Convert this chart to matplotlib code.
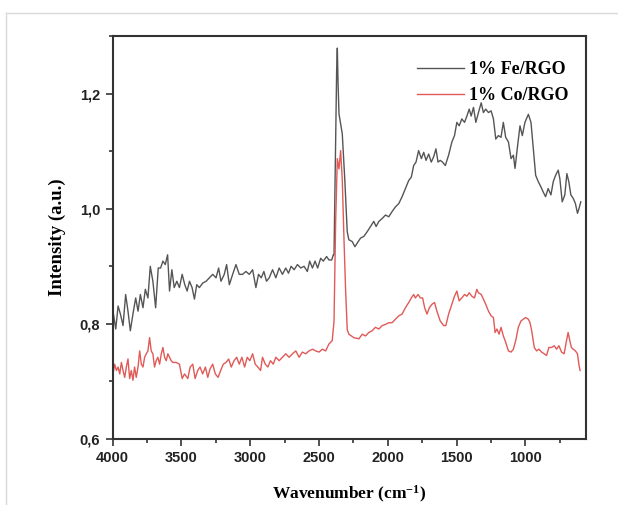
import matplotlib
matplotlib.use("Agg")
import matplotlib.pyplot as plt
from matplotlib.ticker import MultipleLocator, FuncFormatter
from matplotlib.lines import Line2D

plt.rcParams["mathtext.fontset"] = "custom"
plt.rcParams["mathtext.rm"] = "Liberation Serif:bold"
plt.rcParams["mathtext.bf"] = "Liberation Serif:bold"
plt.rcParams["mathtext.default"] = "bf"

# 1% Fe/RGO (black trace)
fe_wn = [3998, 3978, 3961, 3944, 3925, 3906, 3889, 3872, 3853, 3833, 3816, 3799,
         3780, 3763, 3744, 3727, 3708, 3688, 3669, 3652, 3635, 3618, 3601, 3587,
         3570, 3553, 3534, 3515, 3495, 3476, 3459, 3442, 3423, 3406, 3389, 3370,
         3345, 3321, 3297, 3273, 3249, 3230, 3213, 3189, 3172, 3152, 3128, 3104,
         3080, 3056, 3032, 3007, 2983, 2959, 2940, 2920, 2901, 2882, 2862, 2838,
         2814, 2790, 2766, 2742, 2722, 2703, 2681, 2657, 2633, 2609, 2585, 2568,
         2548, 2529, 2510, 2488, 2469, 2445, 2428, 2408, 2396, 2391, 2380, 2372,
         2367, 2362, 2355, 2345, 2331, 2312, 2295, 2283, 2259, 2239, 2215, 2198,
         2174, 2150, 2126, 2102, 2085, 2065, 2041, 2017, 1993, 1969, 1945, 1920,
         1896, 1872, 1848, 1829, 1812, 1795, 1776, 1756, 1739, 1722, 1703, 1684,
         1667, 1650, 1635, 1619, 1602, 1582, 1558, 1534, 1515, 1498, 1481, 1462,
         1442, 1425, 1408, 1394, 1377, 1360, 1341, 1321, 1305, 1288, 1268, 1249,
         1232, 1215, 1196, 1177, 1160, 1143, 1123, 1104, 1087, 1075, 1056, 1039,
         1022, 1003, 978, 959, 942, 925, 906, 887, 870, 853, 834, 814,
         797, 780, 761, 749, 732, 713, 698, 684, 669, 652, 636, 621,
         609, 597]
fe_int = [0.822, 0.791, 0.831, 0.817, 0.797, 0.851, 0.822, 0.788, 0.817, 0.845, 0.822, 0.851,
          0.828, 0.860, 0.845, 0.900, 0.874, 0.828, 0.897, 0.897, 0.909, 0.903, 0.920, 0.857,
          0.894, 0.863, 0.874, 0.863, 0.886, 0.868, 0.857, 0.874, 0.863, 0.843, 0.868, 0.863,
          0.871, 0.874, 0.880, 0.886, 0.880, 0.897, 0.874, 0.886, 0.903, 0.868, 0.886, 0.903,
          0.886, 0.886, 0.891, 0.886, 0.894, 0.863, 0.886, 0.880, 0.891, 0.874, 0.880, 0.894,
          0.880, 0.897, 0.886, 0.897, 0.888, 0.900, 0.894, 0.903, 0.897, 0.900, 0.891, 0.909,
          0.897, 0.909, 0.897, 0.914, 0.909, 0.917, 0.911, 0.911, 0.920, 0.920, 1.100, 1.240,
          1.279, 1.220, 1.165, 1.150, 1.130, 1.047, 0.960, 0.946, 0.943, 0.934, 0.943, 0.949,
          0.952, 0.960, 0.969, 0.978, 0.969, 0.978, 0.983, 0.989, 0.986, 0.995, 1.003, 1.009,
          1.021, 1.035, 1.049, 1.055, 1.075, 1.081, 1.101, 1.087, 1.098, 1.084, 1.095, 1.081,
          1.090, 1.104, 1.081, 1.084, 1.081, 1.075, 1.093, 1.116, 1.127, 1.150, 1.144, 1.156,
          1.150, 1.161, 1.173, 1.161, 1.176, 1.150, 1.167, 1.184, 1.167, 1.173, 1.167, 1.170,
          1.156, 1.121, 1.127, 1.124, 1.150, 1.124, 1.116, 1.087, 1.093, 1.070, 1.110, 1.144,
          1.127, 1.150, 1.164, 1.150, 1.104, 1.058, 1.047, 1.038, 1.029, 1.021, 1.035, 1.024,
          1.047, 1.058, 1.067, 1.052, 1.012, 1.024, 1.061, 1.047, 1.024, 1.018, 1.009, 0.992,
          1.001, 1.012]

# 1% Co/RGO (red trace)
co_wn = [3998, 3986, 3973, 3961, 3949, 3937, 3925, 3913, 3901, 3889, 3877, 3865,
         3853, 3841, 3829, 3816, 3804, 3792, 3780, 3768, 3756, 3744, 3732, 3720,
         3708, 3696, 3684, 3672, 3659, 3647, 3635, 3623, 3611, 3599, 3587, 3575,
         3563, 3539, 3515, 3495, 3478, 3454, 3437, 3418, 3401, 3382, 3365, 3346,
         3326, 3309, 3292, 3273, 3254, 3234, 3215, 3196, 3176, 3157, 3138, 3118,
         3099, 3080, 3061, 3041, 3022, 3003, 2983, 2964, 2945, 2925, 2911, 2891,
         2872, 2853, 2833, 2814, 2790, 2766, 2742, 2718, 2693, 2669, 2645, 2621,
         2597, 2573, 2548, 2524, 2500, 2476, 2452, 2428, 2404, 2391, 2379, 2367,
         2355, 2343, 2331, 2319, 2307, 2295, 2283, 2247, 2210, 2186, 2162, 2138,
         2114, 2090, 2065, 2041, 2017, 1993, 1969, 1945, 1920, 1896, 1872, 1848,
         1829, 1812, 1800, 1780, 1763, 1747, 1732, 1715, 1698, 1679, 1660, 1643,
         1619, 1594, 1578, 1558, 1534, 1515, 1498, 1481, 1462, 1442, 1425, 1408,
         1389, 1370, 1353, 1341, 1321, 1305, 1288, 1268, 1249, 1232, 1220, 1206,
         1191, 1177, 1160, 1143, 1123, 1104, 1087, 1070, 1051, 1032, 1015, 998,
         978, 966, 954, 935, 918, 901, 882, 863, 846, 829, 809, 790,
         773, 756, 737, 718, 703, 689, 677, 665, 652, 636, 621, 611,
         602]
co_int = [0.713, 0.730, 0.719, 0.725, 0.713, 0.733, 0.719, 0.707, 0.725, 0.739, 0.705, 0.719,
          0.702, 0.725, 0.707, 0.725, 0.753, 0.730, 0.725, 0.742, 0.748, 0.753, 0.776, 0.753,
          0.748, 0.725, 0.736, 0.742, 0.730, 0.748, 0.759, 0.742, 0.736, 0.748, 0.742, 0.736,
          0.733, 0.733, 0.730, 0.705, 0.713, 0.705, 0.725, 0.730, 0.705, 0.719, 0.725, 0.713,
          0.725, 0.707, 0.722, 0.730, 0.713, 0.707, 0.719, 0.730, 0.733, 0.739, 0.725, 0.736,
          0.742, 0.730, 0.742, 0.725, 0.742, 0.736, 0.748, 0.730, 0.725, 0.719, 0.742, 0.730,
          0.725, 0.736, 0.730, 0.742, 0.736, 0.742, 0.748, 0.742, 0.748, 0.753, 0.742, 0.751,
          0.748, 0.753, 0.756, 0.753, 0.751, 0.756, 0.753, 0.765, 0.771, 0.805, 0.980, 1.087,
          1.069, 1.101, 1.050, 0.950, 0.860, 0.790, 0.782, 0.776, 0.774, 0.782, 0.779, 0.785,
          0.788, 0.794, 0.791, 0.797, 0.799, 0.802, 0.802, 0.808, 0.814, 0.817, 0.828, 0.837,
          0.845, 0.851, 0.845, 0.851, 0.845, 0.845, 0.828, 0.817, 0.828, 0.834, 0.837, 0.822,
          0.805, 0.797, 0.797, 0.817, 0.834, 0.848, 0.857, 0.840, 0.845, 0.851, 0.848, 0.854,
          0.848, 0.845, 0.860, 0.854, 0.851, 0.843, 0.834, 0.822, 0.814, 0.811, 0.785, 0.791,
          0.782, 0.794, 0.779, 0.768, 0.753, 0.751, 0.756, 0.771, 0.794, 0.805, 0.808, 0.811,
          0.808, 0.802, 0.788, 0.759, 0.753, 0.756, 0.751, 0.748, 0.745, 0.759, 0.759, 0.762,
          0.756, 0.762, 0.751, 0.748, 0.768, 0.785, 0.771, 0.759, 0.756, 0.753, 0.748, 0.730,
          0.719]

y_ticks = [0.6, 0.8, 1.0, 1.2]
x_ticks = [4000, 3500, 3000, 2500, 2000, 1500, 1000]

serif = ["Liberation Serif", "DejaVu Serif"]
sans = ["Liberation Sans Narrow", "Liberation Sans", "DejaVu Sans"]

fig = plt.figure(figsize=(6.18, 5.05), dpi=100)
ax = fig.add_axes([0.1824, 0.1307, 0.7656, 0.798])

ax.plot(fe_wn, fe_int, color="#555555", lw=1.0, label="1% Fe/RGO")
ax.plot(co_wn, co_int, color="#e05a57", lw=1.0, label="1% Co/RGO")

ax.set_xlim(4000, 560)
ax.set_ylim(0.6, 1.3)
ax.set_xticks(x_ticks)
ax.set_yticks(y_ticks)
ax.xaxis.set_minor_locator(MultipleLocator(250))
ax.yaxis.set_minor_locator(MultipleLocator(0.1))
ax.yaxis.set_major_formatter(FuncFormatter(lambda v, p: f"{v:.1f}".replace(".", ",")))
ax.tick_params(which="both", direction="out", top=False, right=False, width=1.2,
               colors="#333333", pad=4)
ax.tick_params(which="major", length=5)
ax.tick_params(which="minor", length=3)
for lab in ax.get_xticklabels() + ax.get_yticklabels():
    lab.set_family(sans)
    lab.set_fontweight("bold")
    lab.set_fontsize(10.5)
    lab.set_color("#222222")
for sp in ax.spines.values():
    sp.set_linewidth(1.5)
    sp.set_color("#333333")

ax.set_xlabel(r"Wavenumber (cm$^{\mathregular{-1}}$)", family=serif, fontweight="bold",
              fontsize=12.5, labelpad=13)
ax.set_ylabel("Intensity (a.u.)", family=serif, fontweight="bold", fontsize=13.5, labelpad=10)

ax.legend(loc="upper right", bbox_to_anchor=(1.017, 1.0), frameon=False,
          handlelength=2.6, handletextpad=0.3, borderaxespad=1.0, labelspacing=0.5,
          prop={"family": serif, "weight": "bold", "size": 13})

# light grey frame of the original screenshot
fig.add_artist(Line2D([6 / 618, 6 / 618], [0, 1 - 13 / 505], color="#d9d9d9", lw=1.0))
fig.add_artist(Line2D([6 / 618, 1], [1 - 13 / 505, 1 - 13 / 505], color="#d9d9d9", lw=1.0))

fig.savefig("out.png", dpi=100)
